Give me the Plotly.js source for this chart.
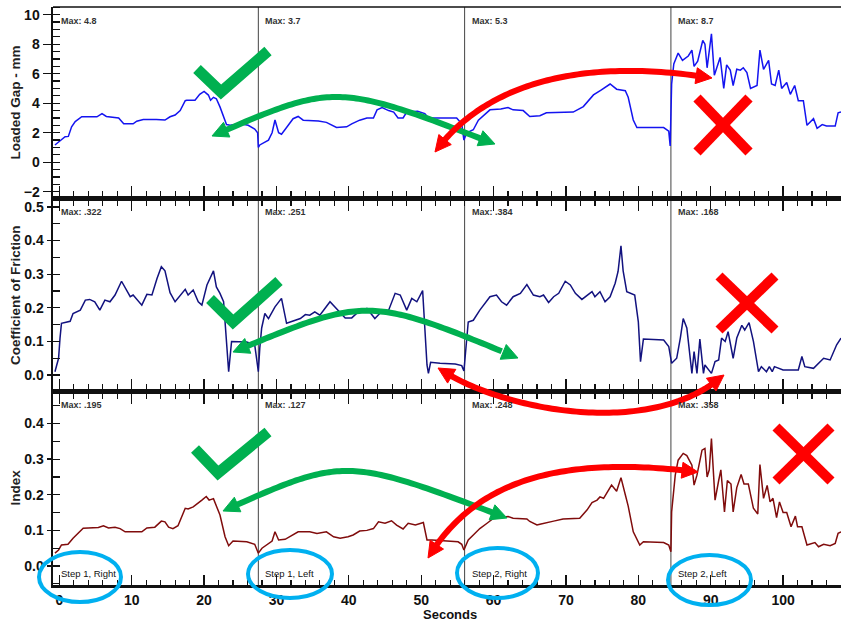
<!DOCTYPE html>
<html>
<head>
<meta charset="utf-8">
<script src="https://cdn.plot.ly/plotly-3.0.1.min.js"></script>
<style>
  html, body { margin: 0; padding: 0; background: #fff; }
  #chart { width: 841px; height: 622px; }
</style>
</head>
<body>
<div id="chart"></div>
<script>
// ---- Loaded gap (mm) ----
const gapTime = [-0.6,0.8,1.25,1.7,2.2,3.1,5.2,5.9,6.5,8.2,8.9,10.2,10.7,11.6,13.4,14.6,15.3,16.0,16.7,17.4,17.6,18.75,19.4,20.0,20.6,20.9,21.3,21.7,22.2,22.7,23.1,23.6,25.0,26.1,27.0,27.4,27.5,
  27.7,28.4,28.9,29.4,29.8,30.3,30.7,31.4,32.3,33.0,33.7,35.8,36.9,38.3,39.7,40.4,41.5,42.5,43.4,43.9,44.6,45.5,46.2,46.8,47.5,48.0,49.5,50.5,51.0,52.6,54.9,55.6,55.9,
  56.3,57.2,57.9,59.5,61.0,62.0,62.7,64.1,65.0,66.4,67.3,69.2,71.0,72.4,73.8,74.9,76.1,77.0,78.2,78.6,79.3,79.8,83.5,84.2,84.4,
  84.6,84.9,85.5,86.1,86.9,87.4,87.7,88.2,88.9,89.2,89.5,90.1,90.5,91.3,91.8,92.2,92.7,93.1,93.6,94.1,94.5,95.0,95.5,96.4,96.8,97.3,98.0,98.4,98.9,99.4,99.8,100.5,101.0,101.6,102.1,102.8,103.3,104.2,104.7,105.4,106.0,107.2,107.6,108.0];
const gapValue = [1.17,1.73,1.75,2.4,2.75,3.08,3.08,3.3,3.1,3.0,2.6,2.6,2.78,2.9,2.9,2.86,3.08,3.2,3.5,4.17,4.2,4.2,4.6,4.8,4.55,4.2,4.4,4.3,3.75,3.0,2.55,2.5,2.6,2.5,2.25,2.0,1.0,
  1.17,1.35,1.5,2.0,2.86,2.0,1.9,2.35,2.95,3.1,2.85,2.8,2.7,2.35,2.4,2.6,2.85,3.0,3.0,3.55,3.7,3.5,3.4,3.0,3.0,3.4,3.45,3.3,3.0,3.0,3.0,2.6,1.5,
  2.0,2.2,2.85,3.55,3.6,3.7,3.55,3.5,3.1,3.15,3.35,3.35,3.4,3.77,4.56,4.9,5.3,4.95,4.85,4.4,2.86,2.35,2.35,2.1,1.1,
  5.3,6.66,7.4,6.9,7.2,7.6,6.5,6.85,8.25,8.0,6.4,8.7,5.9,7.1,5.0,6.6,6.24,5.2,6.3,6.24,6.4,6.08,5.0,5.2,7.6,6.3,6.9,5.3,5.2,6.24,5.0,5.4,4.6,5.2,4.17,4.17,2.5,2.95,2.3,2.55,2.45,2.45,3.35,3.4];

// ---- Coefficient of friction ----
const cofTime = [-0.6,-0.1,0.1,0.3,1.5,1.9,2.9,3.6,4.2,4.9,5.6,6.3,7.0,7.7,8.6,9.1,9.8,10.2,10.9,11.4,12.1,12.8,13.5,14.1,14.6,15.3,16.0,16.7,17.4,17.8,18.5,19.2,19.7,20.4,21.3,21.7,22.2,22.7,23.1,23.4,23.8,24.2,25.9,27.0,27.5,
  27.7,27.96,28.4,28.9,29.8,30.7,31.4,33.3,34.0,34.6,35.3,36.0,37.4,38.3,39.5,40.4,41.3,42.5,43.6,44.5,45.5,46.4,47.1,48.0,48.7,49.4,50.2,50.5,50.8,51.0,51.3,52.6,54.7,55.6,55.9,
  56.5,57.2,58.1,59.5,60.4,61.1,61.8,62.7,63.7,64.6,65.5,66.4,66.9,67.6,68.3,69.0,69.9,70.6,71.3,72.2,73.6,74.0,74.7,75.4,76.1,76.8,77.2,77.6,77.9,78.4,79.5,80.0,80.3,80.7,83.5,84.2,
  84.6,85.3,85.8,86.2,86.7,87.1,87.4,87.7,88.1,88.5,89.0,89.2,90.1,90.6,91.1,91.5,92.0,92.4,93.1,93.6,94.3,94.7,95.3,95.9,96.6,97.0,97.7,98.1,98.5,98.8,100.0,102.1,102.6,103.0,104.2,105.6,106.5,107.4,108.0];
const cofValue = [0.01,0.05,0.11,0.154,0.16,0.183,0.193,0.223,0.225,0.218,0.193,0.223,0.218,0.238,0.279,0.258,0.233,0.238,0.22,0.208,0.24,0.238,0.287,0.322,0.31,0.245,0.218,0.238,0.255,0.238,0.253,0.218,0.208,0.268,0.31,0.262,0.243,0.218,0.1,0.01,0.1,0.1,0.098,0.09,0.01,
  0.08,0.14,0.183,0.168,0.203,0.228,0.154,0.168,0.18,0.178,0.188,0.178,0.218,0.198,0.17,0.17,0.188,0.198,0.168,0.188,0.193,0.243,0.238,0.193,0.228,0.218,0.251,0.14,0.03,0.005,0.038,0.035,0.033,0.028,0.012,
  0.158,0.163,0.193,0.233,0.238,0.218,0.208,0.233,0.243,0.269,0.238,0.233,0.238,0.216,0.233,0.243,0.279,0.268,0.243,0.225,0.248,0.233,0.248,0.218,0.233,0.273,0.308,0.384,0.31,0.248,0.238,0.158,0.04,0.107,0.104,0.085,
  0.035,0.05,0.11,0.168,0.14,0.065,0.005,0.07,0.005,0.107,0.005,0.03,0.005,0.04,0.045,0.11,0.1,0.129,0.05,0.11,0.148,0.134,0.156,0.1,0.01,0.025,0.01,0.025,0.01,0.025,0.015,0.015,0.055,0.025,0.02,0.05,0.045,0.09,0.11];

// ---- Index ----
const indexTime = [-0.6,-0.1,0.3,1.2,1.9,2.6,3.3,5.4,6.1,6.8,7.7,8.4,9.1,11.4,12.1,13.2,14.1,14.6,15.1,15.7,16.4,17.4,17.8,18.5,19.2,19.7,20.3,20.7,21.3,22.2,22.9,23.4,24.0,25.9,27.0,27.5,
  28.0,28.7,29.4,29.8,30.3,31.2,32.3,33.0,34.6,35.6,36.9,37.9,38.8,39.9,40.6,41.5,42.5,43.4,44.1,45.0,45.9,46.6,47.5,48.2,49.2,50.3,50.8,51.5,55.1,55.6,55.9,
  56.5,57.2,58.1,59.1,60.0,60.9,62.0,62.7,64.6,65.0,66.0,66.4,67.3,68.3,69.6,71.0,71.9,72.9,73.6,74.3,74.7,75.2,76.3,77.0,77.6,78.2,78.6,79.3,80.2,80.7,83.5,84.2,84.5,
  84.6,85.1,85.5,86.2,86.7,87.4,87.7,88.1,88.8,89.2,89.5,89.8,90.1,90.6,91.1,91.4,91.9,92.3,92.8,93.1,93.6,94.2,94.6,95.2,95.9,96.5,96.8,97.3,97.8,98.2,98.6,99.1,99.5,100.0,100.5,101.1,101.7,102.0,102.6,103.3,104.4,104.9,105.6,106.5,107.2,107.6,108.0];
const indexValue = [0.036,0.045,0.059,0.061,0.078,0.092,0.106,0.108,0.113,0.107,0.109,0.105,0.096,0.096,0.107,0.109,0.126,0.124,0.109,0.105,0.113,0.162,0.16,0.166,0.176,0.185,0.195,0.185,0.189,0.143,0.082,0.057,0.07,0.068,0.061,0.036,
  0.05,0.059,0.07,0.096,0.073,0.075,0.087,0.096,0.096,0.091,0.096,0.082,0.078,0.082,0.087,0.098,0.1,0.105,0.124,0.12,0.127,0.115,0.104,0.12,0.115,0.122,0.073,0.073,0.068,0.061,0.045,
  0.073,0.087,0.105,0.12,0.134,0.136,0.139,0.134,0.132,0.125,0.115,0.117,0.122,0.126,0.132,0.132,0.134,0.157,0.178,0.185,0.194,0.19,0.227,0.21,0.248,0.2,0.168,0.096,0.059,0.068,0.066,0.059,0.04,
  0.152,0.255,0.297,0.316,0.31,0.283,0.227,0.255,0.325,0.33,0.25,0.27,0.358,0.185,0.24,0.27,0.152,0.24,0.23,0.152,0.22,0.257,0.23,0.23,0.162,0.146,0.285,0.19,0.226,0.18,0.19,0.136,0.18,0.15,0.15,0.11,0.14,0.11,0.11,0.059,0.066,0.054,0.061,0.057,0.063,0.092,0.096];

// ---- Test steps and per-step maxima ----
const stepStarts = [0, 27.5, 56, 84.5];
const stepNames = ['Step 1, Right', 'Step 1, Left', 'Step 2, Right', 'Step 2, Left'];
const gapMax = ['4.8', '3.7', '5.3', '8.7'];
const cofMax = ['.322', '.251', '.384', '.168'];
const indexMax = ['.195', '.127', '.248', '.358'];

// y tick values
const gapTicks = [-2, 0, 2, 4, 6, 8, 10];
const cofTicks = [0, 0.1, 0.2, 0.3, 0.4, 0.5];
const indexTicks = [0, 0.1, 0.2, 0.3, 0.4];

// ---------------------------------------------------------------
const FONT = 'Liberation Sans, Arial, Helvetica, sans-serif';
const INK = '#111';
const xRange = [-0.87, 108.0];

// plot-area geometry in pixels (for the hand-drawn overlay marks)
const L = 53, T = 7, W = 788, H = 578;
const px = x => (x - L) / W;
const py = y => (T + H - y) / H;
const pt = p => px(p[0]).toFixed(5) + ',' + py(p[1]).toFixed(5);

function xAxisBase(anchor, mirror, labels) {
  return {
    anchor: anchor, range: xRange, showgrid: false, zeroline: false,
    showline: true, linewidth: 3, linecolor: INK, mirror: mirror,
    ticks: 'inside', ticklen: 10, tickwidth: 1.3, tickcolor: INK,
    tick0: 0, dtick: 10,
    minor: { dtick: 2, ticks: 'inside', ticklen: 5, tickwidth: 1.2, tickcolor: INK },
    showticklabels: labels,
    tickfont: { family: FONT, size: 14, color: INK, weight: 'bold' }
  };
}
function yAxisBase(domain, range, tickvals, minorStep, fmt, outLen) {
  return {
    domain: domain, range: range, showgrid: false, zeroline: false,
    showline: true, linewidth: 2.5, linecolor: INK,
    ticks: 'outside', ticklen: outLen, tickwidth: 1.3, tickcolor: INK,
    tickvals: tickvals, tickformat: fmt,
    minor: { dtick: minorStep, ticks: 'inside', ticklen: 7, tickwidth: 1.2, tickcolor: INK },
    tickfont: { family: FONT, size: 14, color: INK, weight: 'bold' }
  };
}
// inner halves of the major ticks (the axes' ticks cross their lines)
function yInner(overlay, anchor, range, tickvals) {
  return {
    overlaying: overlay, anchor: anchor, side: 'left', range: range,
    showgrid: false, zeroline: false, showline: false, showticklabels: false,
    ticks: 'inside', ticklen: 7, tickwidth: 1.3, tickcolor: INK, tickvals: tickvals
  };
}

const gapRange = [-2.29, 10.52];
const cofRange = [-0.0416, 0.517];
const indexRange = [-0.0533, 0.482];

const data = [
  { x: gapTime, y: gapValue, xaxis: 'x3', yaxis: 'y3', type: 'scatter', mode: 'lines',
    line: { color: '#1414F0', width: 1.5 }, hoverinfo: 'x+y' },
  { x: cofTime, y: cofValue, xaxis: 'x2', yaxis: 'y2', type: 'scatter', mode: 'lines',
    line: { color: '#12127F', width: 1.5 }, hoverinfo: 'x+y' },
  { x: indexTime, y: indexValue, xaxis: 'x', yaxis: 'y', type: 'scatter', mode: 'lines',
    line: { color: '#800C0C', width: 1.5 }, hoverinfo: 'x+y' }
];

// ---- overlay marks: arrows, ticks, crosses, ellipses ----
const GREEN = '#00B050', RED = '#FF0000', BLUE = '#00B0F0';
const shapes = [];

function bez(p0, c1, c2, p3, t) {
  const u = 1 - t;
  return [0, 1].map(k => u*u*u*p0[k] + 3*u*u*t*c1[k] + 3*u*t*t*c2[k] + t*t*t*p3[k]);
}
function curvedArrow(p0, c1, c2, p3, color) {
  const head = 16, half = 8, back = head * 0.75;
  const pts = [];
  for (let i = 0; i <= 80; i++) pts.push(bez(p0, c1, c2, p3, i / 80));
  const d = (a, b) => Math.hypot(a[0] - b[0], a[1] - b[1]);
  const body = pts.filter(p => d(p, p0) > back && d(p, p3) > back);
  shapes.push({ type: 'path', xref: 'paper', yref: 'paper', layer: 'above',
    path: 'M' + body.map(pt).join(' L'), line: { color: color, width: 6 } });
  const refStart = pts.find(p => d(p, p0) >= head);
  const refEnd = pts.slice().reverse().find(p => d(p, p3) >= head);
  [[p0, refStart], [p3, refEnd]].forEach(([tip, ref]) => {
    let dx = tip[0] - ref[0], dy = tip[1] - ref[1];
    const n = Math.hypot(dx, dy); dx /= n; dy /= n;
    const bx = tip[0] - dx * head, by = tip[1] - dy * head;
    const a = [bx - dy * half, by + dx * half], b = [bx + dy * half, by - dx * half];
    shapes.push({ type: 'path', xref: 'paper', yref: 'paper', layer: 'above',
      path: 'M' + pt(tip) + ' L' + pt(a) + ' L' + pt(b) + ' Z',
      fillcolor: color, line: { color: color, width: 1 } });
  });
}
function checkMark(a, b, c) {
  shapes.push({ type: 'path', xref: 'paper', yref: 'paper', layer: 'above',
    path: 'M' + pt(a) + ' L' + pt(b) + ' L' + pt(c), line: { color: GREEN, width: 11 } });
}
function crossMark(x0, y0, x1, y1) {
  [[[x0, y0], [x1, y1]], [[x1, y0], [x0, y1]]].forEach(([a, b]) => {
    shapes.push({ type: 'path', xref: 'paper', yref: 'paper', layer: 'above',
      path: 'M' + pt(a) + ' L' + pt(b), line: { color: RED, width: 10 } });
  });
}
function ring(x0, y0, x1, y1) {
  shapes.push({ type: 'circle', xref: 'paper', yref: 'paper', layer: 'above',
    x0: px(x0), x1: px(x1), y0: py(y1), y1: py(y0), line: { color: BLUE, width: 4 } });
}

// step dividers
stepStarts.slice(1).forEach(s => {
  shapes.push({ type: 'line', xref: 'x', yref: 'paper', x0: s, x1: s, y0: 0, y1: 1,
    layer: 'below', line: { color: '#444', width: 1 } });
});
// thin top border of the upper panel
shapes.push({ type: 'line', xref: 'paper', yref: 'paper', x0: 0, x1: 1, y0: 1, y1: 1,
  line: { color: INK, width: 1.5 } });

checkMark([197, 69], [221, 92], [268, 51]);
checkMark([210, 299], [233, 322], [279, 281]);
checkMark([195, 449], [218, 473], [268, 432]);

crossMark(697, 98, 749, 152);
crossMark(719, 276, 775, 330);
crossMark(776, 427, 831, 481);

curvedArrow([212, 136], [335.5, 82.7], [335.5, 82.7], [495, 144], GREEN);
curvedArrow([233, 352], [368, 296], [368, 296], [518, 358], GREEN);
curvedArrow([223, 511], [345, 456.5], [345, 456.5], [507, 518], GREEN);

curvedArrow([435, 152], [480, 90], [570, 55], [712, 78], RED);
curvedArrow([438, 368], [500, 410], [650, 440], [724, 375], RED);
curvedArrow([428, 558], [475, 480], [560, 455], [698, 472], RED);

ring(39, 552, 121, 602);
ring(248, 550, 332, 598);
ring(457, 548, 538, 598);
ring(668, 555, 751, 605);

// ---- text ----
const annotations = [];
const firstX = i => (i === 0 ? xRange[0] : stepStarts[i]);
[[gapMax, 'x3', 'y3 domain', 0.926], [cofMax, 'x2', 'y2 domain', 0.94], [indexMax, 'x', 'y domain', 0.942]]
  .forEach(([vals, xr, yr, yy]) => {
    vals.forEach((v, i) => annotations.push({
      text: 'Max: ' + v, xref: xr, yref: yr, x: firstX(i), y: yy, xshift: i === 0 ? 6 : 5,
      xanchor: 'left', yanchor: 'middle', showarrow: false,
      font: { family: FONT, size: 9, color: '#333', weight: 'bold' }
    }));
  });
stepNames.forEach((s, i) => annotations.push({
  text: s, xref: 'x', yref: 'y domain', x: firstX(i), y: 0.058, xshift: i === 0 ? 6 : 5,
  xanchor: 'left', yanchor: 'middle', showarrow: false,
  font: { family: FONT, size: 9.5, color: INK }
}));
const titleFont = { family: FONT, size: 13.5, color: '#222', weight: 'bold' };
[['Loaded Gap - mm', 102.5], ['Coefficient of Friction', 295], ['Index', 487.5]].forEach(([t, y]) => {
  annotations.push({ text: t, xref: 'paper', yref: 'paper', x: px(15), y: py(y), textangle: -90,
    xanchor: 'center', yanchor: 'middle', showarrow: false, font: titleFont });
});
annotations.push({ text: 'Seconds', xref: 'paper', yref: 'paper', x: px(450), y: py(614),
  xanchor: 'center', yanchor: 'middle', showarrow: false,
  font: { family: FONT, size: 13, color: INK, weight: 'bold' } });

const layout = {
  width: 841, height: 622,
  margin: { l: L, r: 0, t: T, b: 622 - T - H, pad: 0 },
  paper_bgcolor: '#fff', plot_bgcolor: 'rgba(0,0,0,0)',
  showlegend: false, hovermode: 'closest',
  font: { family: FONT, color: INK },
  xaxis: xAxisBase('y', 'allticks', true),
  xaxis2: Object.assign(xAxisBase('y2', 'allticks', false), { matches: 'x' }),
  xaxis3: Object.assign(xAxisBase('y3', false, false), { matches: 'x' }),
  xaxis4: { overlaying: 'x', anchor: 'y', range: xRange, showgrid: false, zeroline: false,
    showline: false, showticklabels: false, ticks: 'outside', ticklen: 7, tickwidth: 1.3,
    tickcolor: INK, tick0: 0, dtick: 10 },
  yaxis: Object.assign(yAxisBase([0, 0.330], indexRange, indexTicks, 0.05, '.1f', 4), { anchor: 'x' }),
  yaxis2: Object.assign(yAxisBase([0.339, 0.664], cofRange, cofTicks, 0.05, '.1f', 4), { anchor: 'x2' }),
  yaxis3: Object.assign(yAxisBase([0.673, 1], gapRange, gapTicks, 0.5, 'd', 8), { anchor: 'x3' }),
  yaxis4: yInner('y3', 'x3', gapRange, gapTicks),
  yaxis5: yInner('y2', 'x2', cofRange, cofTicks),
  yaxis6: yInner('y', 'x', indexRange, indexTicks),
  shapes: shapes,
  annotations: annotations
};

Plotly.newPlot('chart', data, layout, { displayModeBar: false, staticPlot: true });
</script>
</body>
</html>
